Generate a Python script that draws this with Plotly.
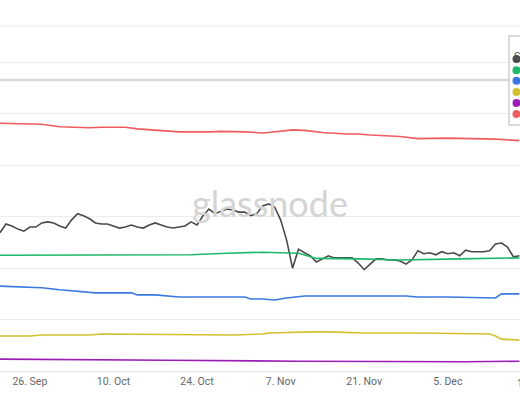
import plotly.graph_objects as go
import pandas as pd

inicio = pd.Timestamp("2022-09-21")

# serie gris (diaria)
gris = [26.9, 28.6, 28.2, 27.6, 27.2, 28.0, 28.0, 28.8, 29.0, 28.8,
        28.2, 27.8, 29.4, 30.6, 30.2, 29.6, 28.8, 28.6, 28.6, 28.2,
        27.8, 28.0, 28.4, 28.0, 27.8, 28.4, 28.8, 28.4, 28.0, 27.8,
        28.0, 28.2, 29.0, 28.4, 30.2, 31.5, 30.6, 31.1, 31.5, 31.3,
        30.9, 30.9, 30.2, 30.6, 32.1, 32.5, 31.9, 29.4, 25.5, 20.0,
        23.7, 23.0, 22.4, 21.2, 21.8, 22.4, 22.0, 22.0, 22.0, 22.0,
        21.0, 19.7, 20.8, 21.8, 21.8, 21.6, 21.6, 21.4, 20.8, 21.6,
        23.4, 22.8, 23.0, 22.6, 23.2, 22.8, 23.0, 22.4, 23.5, 23.2,
        23.2, 23.2, 23.4, 24.7, 24.9, 24.1, 22.2, 22.4]
dias_gris = list(range(len(gris)))

dias_verde = [0, 20, 32, 38, 44, 50, 53, 60, 67, 77, 87]
verde = [22.5, 22.5, 22.6, 22.9, 23.1, 22.9, 21.9, 21.8, 21.6, 21.8, 22.0]

dias_azul = [0, 7, 10, 12, 16, 22, 23, 26, 30, 34, 41, 42, 44, 46, 48, 51,
             60, 68, 70, 75, 83, 84, 87]
azul = [16.5, 16.2, 15.8, 15.6, 15.2, 15.2, 14.8, 14.8, 14.4, 14.4, 14.4,
        14.0, 14.0, 13.8, 14.2, 14.6, 14.6, 14.6, 14.4, 14.4, 14.2, 15.0, 15.0]

dias_amarillo = [0, 5, 7, 15, 17, 39, 44, 45, 52, 55, 61, 70, 82, 83, 84, 87]
amarillo = [6.8, 6.8, 7.0, 7.0, 7.2, 7.0, 7.2, 7.4, 7.6, 7.6, 7.4, 7.4, 7.2,
            6.8, 6.2, 6.0]

dias_morado = [0, 17, 28, 50, 67, 78, 87]
morado = [2.3, 2.1, 2.1, 1.9, 1.8, 1.8, 1.9]

dias_rojo = [0, 5, 7, 10, 15, 17, 21, 23, 26, 30, 35, 37, 41, 44, 45, 49,
             51, 54, 58, 60, 62, 67, 70, 75, 79, 83, 87]
rojo = [48.2, 48.1, 48.0, 47.5, 47.3, 47.4, 47.4, 47.1, 46.9, 46.5, 46.5,
        46.6, 46.5, 46.3, 46.4, 46.9, 46.8, 46.4, 46.1, 46.1, 45.9, 45.6,
        45.2, 45.3, 45.2, 45.1, 44.8]

series = [
    (dias_gris, gris, "#4a4a4a"),
    (dias_verde, verde, "#1db869"),
    (dias_azul, azul, "#3b79e0"),
    (dias_amarillo, amarillo, "#d2c12c"),
    (dias_morado, morado, "#9d1cb6"),
    (dias_rojo, rojo, "#f05b5e"),
]

fig = go.Figure()

for dias, valores, color in series:
    fechas = inicio + pd.to_timedelta(dias, unit="D")
    fig.add_trace(go.Scatter(x=fechas, y=valores, mode="lines",
                             line=dict(color=color, width=1.6),
                             showlegend=False, hoverinfo="skip"))

# linea gruesa de referencia y borde superior
fig.add_hline(y=56.6, line=dict(color="#d9d9d9", width=2.5))
fig.add_shape(type="line", xref="paper", yref="paper", x0=0, x1=1, y0=1, y1=1,
              line=dict(color="#e8e8e8", width=1))

# leyenda recortada (como en la captura)
fig.add_shape(type="rect", xref="paper", yref="paper",
              x0=509 / 520, x1=540 / 520, y0=0.713, y1=0.971,
              line=dict(color="#b5b5b5", width=1), fillcolor="white", layer="above")
fig.add_annotation(x=512 / 520, y=0.935, xref="paper", yref="paper",
                   text="Series", showarrow=False, xanchor="left",
                   font=dict(size=11, color="#555555", family="Roboto"))
y_leyenda = [0.904, 0.872, 0.841, 0.809, 0.777, 0.745]
for (dias, valores, color), yl in zip(series, y_leyenda):
    fig.add_shape(type="circle", xref="paper", yref="paper",
                  xsizemode="pixel", ysizemode="pixel",
                  xanchor=516.5 / 520, yanchor=yl,
                  x0=-4, x1=4, y0=-4, y1=4,
                  line=dict(width=0), fillcolor=color, layer="above")

# etiqueta del ultimo tick, recortada por el borde
fig.add_annotation(x=515 / 520, y=-0.012, xref="paper", yref="paper",
                   text="19. Dec", showarrow=False, yanchor="top", xanchor="left",
                   font=dict(size=10.5, color="#666666", family="Roboto"))

# marca de agua
fig.add_annotation(x=0.519, y=0.487, xref="paper", yref="paper",
                   text="glassnode", showarrow=False,
                   font=dict(size=36, color="#d4d4d4", family="Lato"))

fig.update_layout(
    width=520, height=400,
    margin=dict(l=0, r=0, t=26, b=29, autoexpand=False),
    plot_bgcolor="white", paper_bgcolor="white",
    xaxis=dict(range=[inicio, inicio + pd.Timedelta(hours=87.1 * 24)],
               tick0="2022-09-26", dtick=14 * 86400000, tickformat="%-d. %b",
               showgrid=False, zeroline=False, showline=True,
               linecolor="#e6e6e6", linewidth=1,
               tickfont=dict(size=10.5, color="#666666", family="Roboto")),
    yaxis=dict(range=[0, 67.1], dtick=10, showticklabels=False,
               gridcolor="#ececec", gridwidth=1, zeroline=False),
)

fig.write_html("out.html", config={"displayModeBar": False},
               post_script="document.body.style.margin='0';")
